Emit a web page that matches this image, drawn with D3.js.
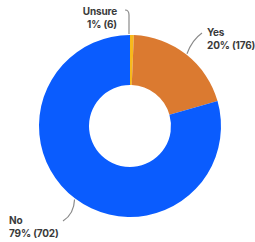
<!DOCTYPE html>
<html><head><meta charset="utf-8">
<script src="https://cdn.jsdelivr.net/npm/d3@7"></script>
<style>html,body{margin:0;padding:0;background:#fff;}svg{display:block;}</style>
</head><body>
<svg id="c" width="255" height="242"></svg>
<script>
const categories = ["Unsure", "Yes", "No"];
const counts = [6, 176, 702];
const percentLabels = ["1%", "20%", "79%"];
const colors = ["#F7B91C", "#DB7A30", "#0A5CFE"];

const W = 255, H = 242, cx = 130, cy = 126, rOuter = 91, rInner = 41;
const svg = d3.select("#c");
const g = svg.append("g").attr("transform", `translate(${cx},${cy})`);

const data = categories.map((c, i) => ({cat: c, n: counts[i], pct: percentLabels[i], color: colors[i]}));
const pie = d3.pie().value(d => d.n).sort(null);
const arcs = pie(data);
const arc = d3.arc().innerRadius(rInner).outerRadius(rOuter);

g.selectAll("path.slice").data(arcs).enter().append("path")
  .attr("class", "slice").attr("d", arc).attr("fill", d => d.data.color);

// label layout (code-level)
const layout = {
  Unsure: {end: [-5, -116], ctrl: [0, -116], mid: [0, -111], tx: -13, ty: -111, anchor: "end"},
  Yes: {end: [72, -93], ctrl: [62, -86], tx: 77, ty: -90, anchor: "start"},
  No: {end: [-67, 95], ctrl: [-56, 88], tx: -121, ty: 98, anchor: "start"}
};

arcs.forEach(a => {
  const L = layout[a.data.cat];
  const m = (a.startAngle + a.endAngle) / 2;
  let sx = Math.sin(m) * (rOuter + 1), sy = -Math.cos(m) * (rOuter + 1);
  if (a.data.cat === "Unsure") sx = -1;
  let p = `M${sx},${sy}`;
  if (L.mid) p += ` L${L.mid[0]-1},${L.mid[1]}`;
  p += ` Q${L.ctrl[0] + (L.mid ? -1 : 0)},${L.ctrl[1]} ${L.end[0]},${L.end[1]}`;
  g.append("path").attr("d", p).attr("fill", "none").attr("stroke", "#8a8a8a").attr("stroke-width", 1.2);
  const t = g.append("text").attr("text-anchor", L.anchor)
    .attr("font-family", "Inter, 'Noto Sans', sans-serif").attr("font-weight", 700)
    .attr("font-size", 10).attr("letter-spacing", -0.15).attr("fill", "#3a3a3a");
  t.append("tspan").attr("x", L.tx).attr("y", L.ty).text(a.data.cat);
  t.append("tspan").attr("x", L.tx).attr("y", L.ty + 12.5).text(`${a.data.pct} (${a.data.n})`);
});
</script>
</body></html>
